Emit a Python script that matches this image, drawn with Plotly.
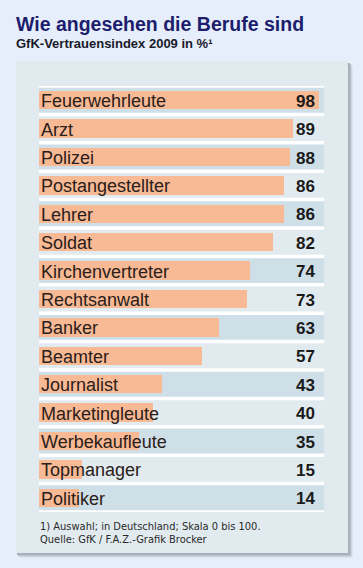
import plotly.graph_objects as go

categories = ["Feuerwehrleute", "Arzt", "Polizei", "Postangestellter", "Lehrer",
              "Soldat", "Kirchenvertreter", "Rechtsanwalt", "Banker", "Beamter",
              "Journalist", "Marketingleute", "Werbekaufleute", "Topmanager", "Politiker"]
values = [98, 89, 88, 86, 86, 82, 74, 73, 63, 57, 43, 40, 35, 15, 14]

title = "Wie angesehen die Berufe sind"
subtitle = "GfK-Vertrauensindex 2009 in %¹"
footnote1 = "1) Auswahl; in Deutschland; Skala 0 bis 100."
footnote2 = "Quelle: GfK / F.A.Z.-Grafik Brocker"

W, H = 363, 568
OUTER_BG = "#e6eefb"
PANEL_BG = "#e1ebef"
BAND_DARK = "#cfdfe8"
BAR_COLOR = "#f8b995"
TITLE_COLOR = "#1c1d6c"
TEXT_COLOR = "#2a2019"
COND = "DejaVu Sans Condensed, Liberation Sans Narrow, sans-serif"
REG = "Liberation Sans, Arial, sans-serif"

def px(x):
    return x / W

def py(y):
    return 1 - y / H

n = len(categories)
idx = list(range(n))

fig = go.Figure()
fig.add_trace(go.Bar(
    x=values, y=idx, orientation="h", width=0.65,
    marker=dict(color=BAR_COLOR, line=dict(width=0)),
    hoverinfo="skip", showlegend=False,
))

shapes = []
# soft shadow (layers)
for off, col in [(5, "#dbe3ee"), (4, "#ccd5e0"), (3, "#b9c3ce"), (2, "#a7b1bc")]:
    shapes.append(dict(type="rect", xref="paper", yref="paper",
                       x0=px(16 + off - 1), x1=px(348 + off), y0=py(553 + off), y1=py(61 + off),
                       fillcolor=col, line=dict(width=0), layer="below"))
# panel
shapes.append(dict(type="rect", xref="paper", yref="paper",
                   x0=px(16), x1=px(348), y0=py(553), y1=py(61),
                   fillcolor=PANEL_BG, line=dict(width=0), layer="below"))
# alternating bands
for i in idx:
    if i % 2 == 0:
        shapes.append(dict(type="rect", xref="x", yref="y",
                           x0=0, x1=100, y0=i - 0.5, y1=i + 0.5,
                           fillcolor=BAND_DARK, line=dict(width=0), layer="below"))
# white separators
for k in range(n + 1):
    shapes.append(dict(type="line", xref="x", yref="y",
                       x0=0, x1=100, y0=k - 0.5, y1=k - 0.5,
                       line=dict(color="white", width=3.5), layer="below"))

annotations = []
for i, (c, v) in enumerate(zip(categories, values)):
    annotations.append(dict(x=0, y=i, xref="x", yref="y", text=c, showarrow=False,
                            xanchor="left", yanchor="middle", xshift=0, yshift=-1,
                            font=dict(family=REG, size=18, color=TEXT_COLOR)))
    annotations.append(dict(x=100, y=i, xref="x", yref="y", text=f"<b>{v}</b>",
                            showarrow=False, xanchor="right", yanchor="middle",
                            xshift=-7, yshift=-1,
                            font=dict(family=REG, size=17, color="#1a1a1a")))

annotations.append(dict(x=px(14), y=py(24), xref="paper", yref="paper", text=f"<b>{title}</b>",
                        showarrow=False, xanchor="left", yanchor="middle",
                        font=dict(family=REG, size=19.5, color=TITLE_COLOR)))
annotations.append(dict(x=px(14), y=py(43.5), xref="paper", yref="paper", text=f"<b>{subtitle}</b>",
                        showarrow=False, xanchor="left", yanchor="middle",
                        font=dict(family=REG, size=13, color="#1a1a2a")))
annotations.append(dict(x=px(38), y=py(526.5), xref="paper", yref="paper", text=footnote1,
                        showarrow=False, xanchor="left", yanchor="middle",
                        font=dict(family=COND, size=11, color="#2a2a2a")))
annotations.append(dict(x=px(38), y=py(539.5), xref="paper", yref="paper", text=footnote2,
                        showarrow=False, xanchor="left", yanchor="middle",
                        font=dict(family=COND, size=11, color="#2a2a2a")))

fig.update_layout(
    width=W, height=H,
    margin=dict(l=0, r=0, t=0, b=0),
    paper_bgcolor=OUTER_BG, plot_bgcolor="rgba(0,0,0,0)",
    xaxis=dict(domain=[px(39), px(324.4)], range=[0, 100], visible=False, fixedrange=True),
    yaxis=dict(domain=[py(512), py(86)], range=[n - 0.5, -0.5], visible=False, fixedrange=True),
    shapes=shapes, annotations=annotations,
    bargap=0, showlegend=False,
)

fig.write_html("out.html", config={"displayModeBar": False},
               post_script="document.body.style.margin='0';document.body.style.background='#e6eefb';")
